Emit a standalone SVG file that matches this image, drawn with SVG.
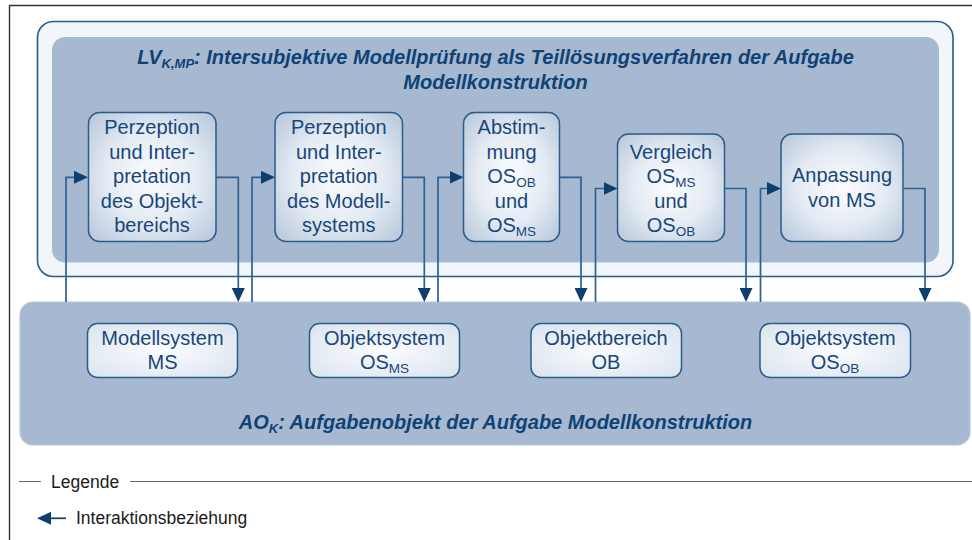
<svg xmlns="http://www.w3.org/2000/svg" width="972" height="540" viewBox="0 0 972 540">
  <style>
    .txt { font-family: "Liberation Sans", Arial, sans-serif; fill: #17477a; }
    .box { font-size: 20px; text-anchor: middle; }
    .title { font-size: 20px; font-weight: bold; font-style: italic; text-anchor: middle; fill: #0f4275; }
    .node { stroke: #2b5c8a; stroke-width: 1.5; fill: url(#boxGrad); }
    .snode { stroke: #2b5c8a; stroke-width: 1.5; fill: url(#sboxGrad); }
    .conn { fill: none; stroke: #2e6090; stroke-width: 1.7; marker-end: url(#arrow); }
    .legend { font-family: "Liberation Sans", Arial, sans-serif; font-size: 17.5px; fill: #1a1a1a; }
  </style>
  <defs>
    <radialGradient id="boxGrad" cx="50%" cy="50%" r="65%">
      <stop offset="0" stop-color="#fbfcfe"/>
      <stop offset="0.55" stop-color="#e4ebf3"/>
      <stop offset="1" stop-color="#bccbde"/>
    </radialGradient>
    <radialGradient id="sboxGrad" cx="50%" cy="50%" r="70%">
      <stop offset="0" stop-color="#fbfcfe"/>
      <stop offset="1" stop-color="#d9e3ee"/>
    </radialGradient>
    <marker id="arrow" viewBox="0 0 14 13" refX="8" refY="6.5" markerWidth="14" markerHeight="13" markerUnits="userSpaceOnUse" orient="auto">
      <path d="M0,0 L14,6.5 L0,13 Z" fill="#0d3f6e"/>
    </marker>
  </defs>

  <!-- page frame -->
  <path d="M9.5,540 V5.5 H972" fill="none" stroke="#333" stroke-width="1.4"/>

  <!-- solution procedure panel -->
  <g id="lv-panel">
    <rect x="37.5" y="21.5" width="915.5" height="255" rx="16" fill="#f2f5f9" stroke="#2a5c8a" stroke-width="1.6"/>
    <rect x="52" y="37" width="887" height="225.5" rx="13" fill="#a7b9d1"/>
    <text class="txt title" x="495.5" y="64">LV<tspan font-size="13" dy="4">K,MP</tspan><tspan dy="-4">: Intersubjektive Modellprüfung als Teillösungsverfahren der Aufgabe</tspan></text>
    <text class="txt title" x="495.5" y="89">Modellkonstruktion</text>
  </g>

  <!-- task object panel -->
  <g id="ao-panel">
    <rect x="20" y="302" width="950" height="143" rx="13" fill="#a7b9d1" stroke="#b6c6da" stroke-width="1.2"/>
    <text class="txt title" x="495.5" y="429">AO<tspan font-size="13" dy="4">K</tspan><tspan dy="-4">: Aufgabenobjekt der Aufgabe Modellkonstruktion</tspan></text>
  </g>

  <!-- process steps -->
  <g id="step-perzeption-ob">
    <rect class="node" x="88.5" y="112.5" width="127.5" height="129" rx="11"/>
    <text class="txt box" x="152" y="134">Perzeption</text>
    <text class="txt box" x="152" y="158.5">und Inter-</text>
    <text class="txt box" x="152" y="183">pretation</text>
    <text class="txt box" x="152" y="207.5">des Objekt-</text>
    <text class="txt box" x="152" y="232">bereichs</text>
  </g>
  <g id="step-perzeption-ms">
    <rect class="node" x="275" y="112.5" width="127.5" height="129" rx="11"/>
    <text class="txt box" x="338.75" y="134">Perzeption</text>
    <text class="txt box" x="338.75" y="158.5">und Inter-</text>
    <text class="txt box" x="338.75" y="183">pretation</text>
    <text class="txt box" x="338.75" y="207.5">des Modell-</text>
    <text class="txt box" x="338.75" y="232">systems</text>
  </g>
  <g id="step-abstimmung">
    <rect class="node" x="463.5" y="112.5" width="96" height="129" rx="11"/>
    <text class="txt box" x="511.5" y="134">Abstim-</text>
    <text class="txt box" x="511.5" y="158.5">mung</text>
    <text class="txt box" x="511.5" y="183">OS<tspan font-size="13.5" dy="3.5">OB</tspan></text>
    <text class="txt box" x="511.5" y="207.5">und</text>
    <text class="txt box" x="511.5" y="232">OS<tspan font-size="13.5" dy="3.5">MS</tspan></text>
  </g>
  <g id="step-vergleich">
    <rect class="node" x="617.5" y="134" width="107" height="107.5" rx="11"/>
    <text class="txt box" x="671" y="158.5">Vergleich</text>
    <text class="txt box" x="671" y="183">OS<tspan font-size="13.5" dy="3.5">MS</tspan></text>
    <text class="txt box" x="671" y="207.5">und</text>
    <text class="txt box" x="671" y="232">OS<tspan font-size="13.5" dy="3.5">OB</tspan></text>
  </g>
  <g id="step-anpassung">
    <rect class="node" x="781" y="134" width="122" height="107.5" rx="11"/>
    <text class="txt box" x="842" y="182">Anpassung</text>
    <text class="txt box" x="842" y="206.5">von MS</text>
  </g>

  <!-- task object elements -->
  <g id="obj-ms">
    <rect class="snode" x="87.5" y="323.5" width="150" height="54" rx="10"/>
    <text class="txt box" x="162.5" y="345">Modellsystem</text>
    <text class="txt box" x="162.5" y="369">MS</text>
  </g>
  <g id="obj-os-ms">
    <rect class="snode" x="309.5" y="323.5" width="150" height="54" rx="10"/>
    <text class="txt box" x="384.5" y="345">Objektsystem</text>
    <text class="txt box" x="384.5" y="369">OS<tspan font-size="13.5" dy="3.5">MS</tspan></text>
  </g>
  <g id="obj-ob">
    <rect class="snode" x="531" y="323.5" width="150.5" height="54" rx="10"/>
    <text class="txt box" x="606" y="345">Objektbereich</text>
    <text class="txt box" x="606" y="369">OB</text>
  </g>
  <g id="obj-os-ob">
    <rect class="snode" x="760" y="323.5" width="150.5" height="54" rx="10"/>
    <text class="txt box" x="835" y="345">Objektsystem</text>
    <text class="txt box" x="835" y="369">OS<tspan font-size="13.5" dy="3.5">OB</tspan></text>
  </g>

  <!-- interaction connectors -->
  <g id="connectors">
    <path class="conn" d="M66,302 V177.3 H82"/>
    <path class="conn" d="M216,177.3 H238.3 V296"/>
    <path class="conn" d="M252,302 V177.3 H269"/>
    <path class="conn" d="M402.5,177.3 H424.3 V296"/>
    <path class="conn" d="M438,302 V177.3 H457.5"/>
    <path class="conn" d="M559.5,177.3 H581 V296"/>
    <path class="conn" d="M595.5,302 V188.5 H611.5"/>
    <path class="conn" d="M724.5,188.5 H746 V296"/>
    <path class="conn" d="M760.5,302 V188.5 H775"/>
    <path class="conn" d="M903,188.5 H925 V296"/>
  </g>

  <!-- legend -->
  <g id="legend">
    <path d="M19,481.5 H41 M130,481.5 H972" stroke="#666" stroke-width="1.2" fill="none"/>
    <text class="legend" x="51" y="487.5">Legende</text>
    <path d="M66,518.3 H43" stroke="#0d3f6e" stroke-width="1.7" fill="none" marker-end="url(#arrow)"/>
    <text class="legend" x="76" y="524">Interaktionsbeziehung</text>
  </g>
</svg>
